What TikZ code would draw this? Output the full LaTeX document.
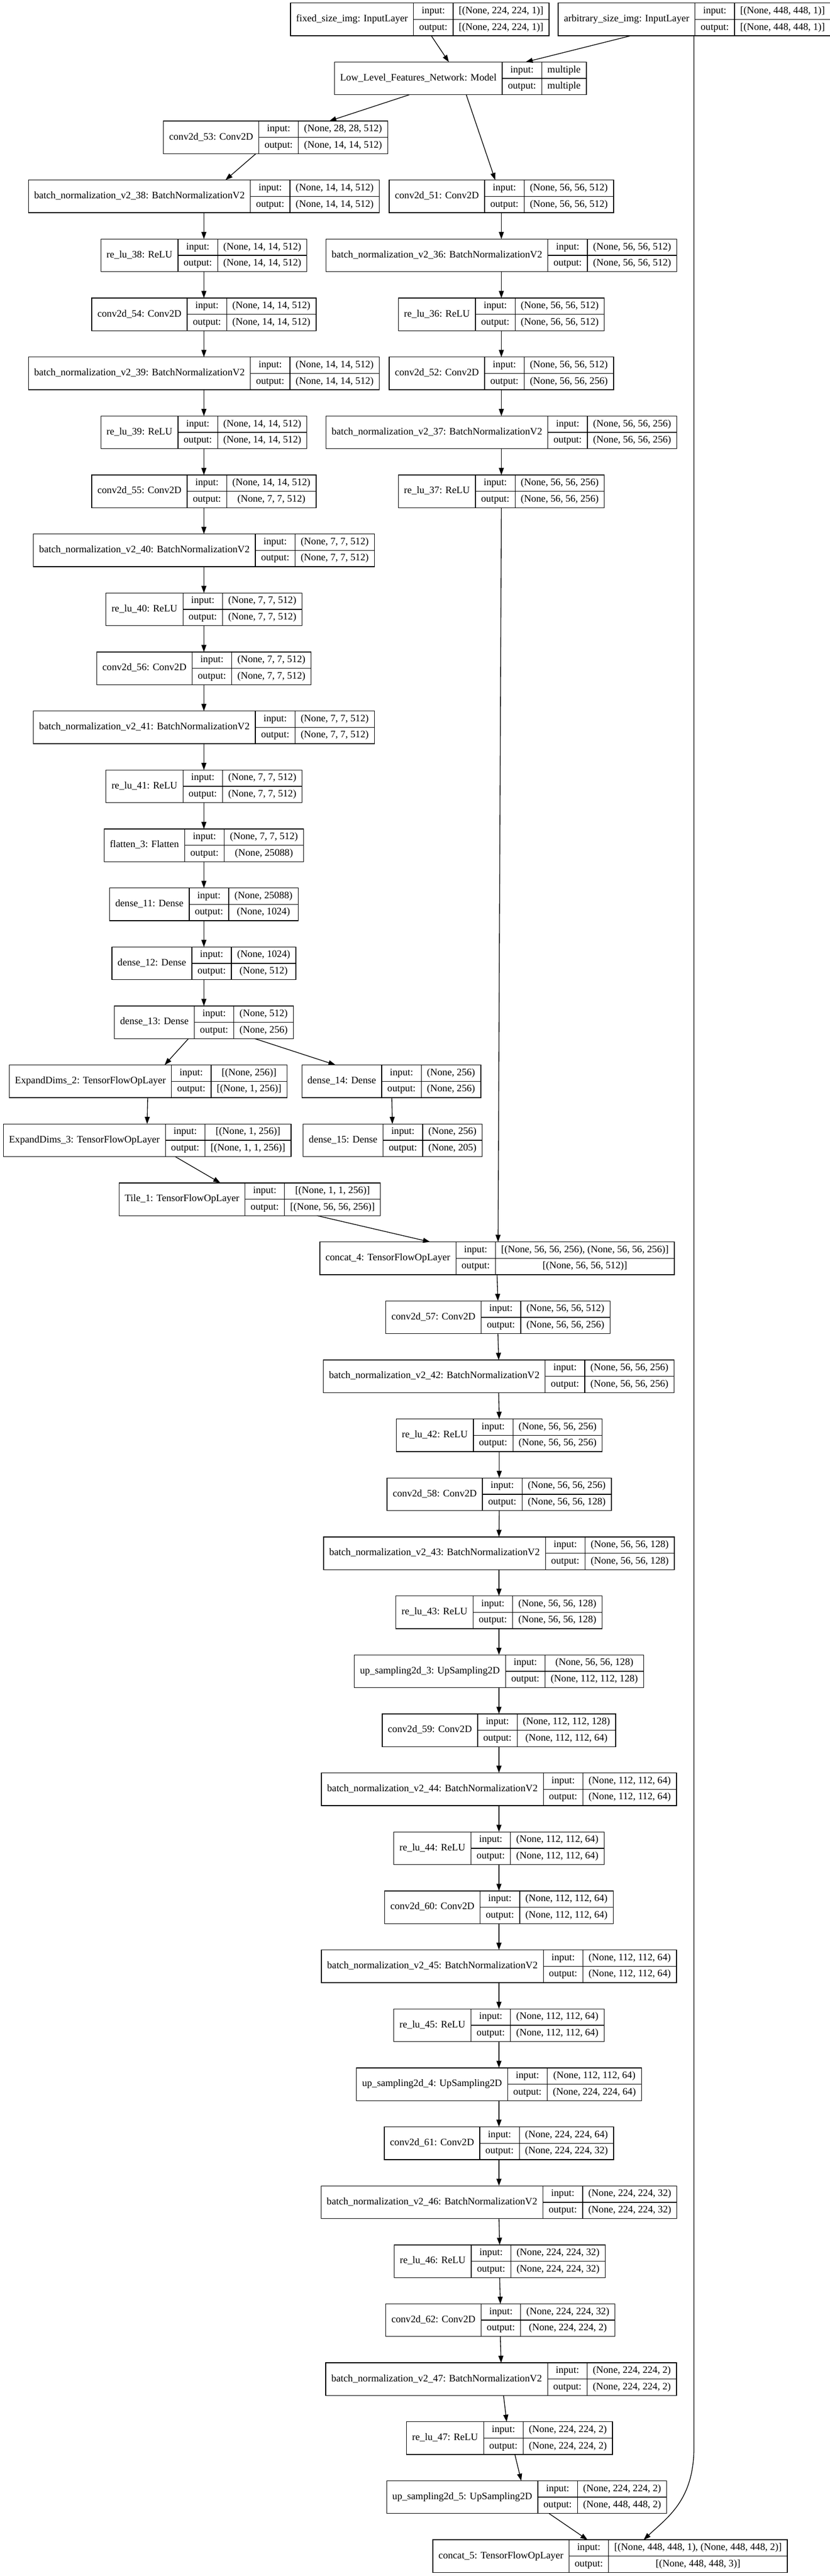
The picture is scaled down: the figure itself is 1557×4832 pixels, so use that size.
\documentclass[tikz,border=0pt]{standalone}
\usepackage{fontspec}
\setmainfont{Liberation Serif}
\usetikzlibrary{arrows.meta,fit,calc}
\newlength\LWl \newlength\LWv \newlength\LWb \newlength\LWio \newlength\LWh
\newcommand\lf{\fontsize{14bp}{16bp}\selectfont}
\tikzset{
  cell/.style={draw, line width=1bp, inner sep=0pt, outer sep=0pt, font=\lf,
    text height=10bp, text depth=3.5bp, anchor=north west, align=center},
  edge/.style={draw, line width=1bp, -{Triangle[length=10bp,width=7bp]}},
}
\newcommand\layer[6]{%
  \pgfinterruptpicture
    \settowidth\LWl{\lf #2}\global\LWl=\LWl
    \settowidth\LWv{\lf #3}\global\LWv=\LWv
    \settowidth\LWb{\lf #4}\global\LWb=\LWb
    \settowidth\LWio{\lf output:}\global\LWio=\LWio
  \endpgfinterruptpicture
  \addtolength\LWl{16bp}%
  \ifdim\LWb>\LWv \LWv=\LWb\fi \addtolength\LWv{16bp}%
  \addtolength\LWio{16bp}%
  \LWh=\LWl \advance\LWh by\LWio \advance\LWh by\LWv \LWh=0.5\LWh
  \path (#5,{5.7+110.66*#6}) ++(-\LWh,0pt) coordinate (#1-nw);
  \node[cell, minimum width=\LWl, minimum height=46bp] (#1-l) at (#1-nw) {#2};
  \node[cell, minimum width=\LWio, minimum height=23bp] (#1-i) at (#1-l.north east) {input:};
  \node[cell, minimum width=\LWio, minimum height=23bp] (#1-o) at (#1-i.south west) {output:};
  \node[cell, minimum width=\LWv, minimum height=23bp] (#1-vi) at (#1-i.north east) {#3};
  \node[cell, minimum width=\LWv, minimum height=23bp] (#1-vo) at (#1-vi.south west) {#4};
  \node[fit=(#1-l)(#1-vo), inner sep=0pt, outer sep=0pt] (#1) {};
}
\begin{document}
\begin{tikzpicture}[x=0.75bp, y=-0.75bp]
\useasboundingbox (0,0) rectangle (1557,4832);
\fill[white] (0,0) rectangle (1557,4832);
% top
\layer{fixed}{fixed\_size\_img: InputLayer}{[(None, 224, 224, 1)]}{[(None, 224, 224, 1)]}{787.5}{0}
\layer{arb}{arbitrary\_size\_img: InputLayer}{[(None, 448, 448, 1)]}{[(None, 448, 448, 1)]}{1302.5}{0}
\layer{low}{Low\_Level\_Features\_Network: Model}{multiple}{multiple}{863.6}{1}
\layer{c53}{conv2d\_53: Conv2D}{(None, 28, 28, 512)}{(None, 14, 14, 512)}{517}{2}
% left column
\layer{bn38}{batch\_normalization\_v2\_38: BatchNormalizationV2}{(None, 14, 14, 512)}{(None, 14, 14, 512)}{382.5}{3}
\layer{r38}{re\_lu\_38: ReLU}{(None, 14, 14, 512)}{(None, 14, 14, 512)}{382.5}{4}
\layer{c54}{conv2d\_54: Conv2D}{(None, 14, 14, 512)}{(None, 14, 14, 512)}{382.5}{5}
\layer{bn39}{batch\_normalization\_v2\_39: BatchNormalizationV2}{(None, 14, 14, 512)}{(None, 14, 14, 512)}{382.5}{6}
\layer{r39}{re\_lu\_39: ReLU}{(None, 14, 14, 512)}{(None, 14, 14, 512)}{382.5}{7}
\layer{c55}{conv2d\_55: Conv2D}{(None, 14, 14, 512)}{(None, 7, 7, 512)}{382.5}{8}
\layer{bn40}{batch\_normalization\_v2\_40: BatchNormalizationV2}{(None, 7, 7, 512)}{(None, 7, 7, 512)}{382.5}{9}
\layer{r40}{re\_lu\_40: ReLU}{(None, 7, 7, 512)}{(None, 7, 7, 512)}{382.5}{10}
\layer{c56}{conv2d\_56: Conv2D}{(None, 7, 7, 512)}{(None, 7, 7, 512)}{382.5}{11}
\layer{bn41}{batch\_normalization\_v2\_41: BatchNormalizationV2}{(None, 7, 7, 512)}{(None, 7, 7, 512)}{382.5}{12}
\layer{r41}{re\_lu\_41: ReLU}{(None, 7, 7, 512)}{(None, 7, 7, 512)}{382.5}{13}
\layer{fl3}{flatten\_3: Flatten}{(None, 7, 7, 512)}{(None, 25088)}{382.5}{14}
\layer{d11}{dense\_11: Dense}{(None, 25088)}{(None, 1024)}{382.5}{15}
\layer{d12}{dense\_12: Dense}{(None, 1024)}{(None, 512)}{382.5}{16}
\layer{d13}{dense\_13: Dense}{(None, 512)}{(None, 256)}{382.5}{17}
\layer{ed2}{ExpandDims\_2: TensorFlowOpLayer}{[(None, 256)]}{[(None, 1, 256)]}{278}{18}
\layer{d14}{dense\_14: Dense}{(None, 256)}{(None, 256)}{734}{18}
\layer{ed3}{ExpandDims\_3: TensorFlowOpLayer}{[(None, 1, 256)]}{[(None, 1, 1, 256)]}{276}{19}
\layer{d15}{dense\_15: Dense}{(None, 256)}{(None, 205)}{736.6}{19}
\layer{tile1}{Tile\_1: TensorFlowOpLayer}{[(None, 1, 1, 256)]}{[(None, 56, 56, 256)]}{468.6}{20}
% right column
\layer{c51}{conv2d\_51: Conv2D}{(None, 56, 56, 512)}{(None, 56, 56, 512)}{940.5}{3}
\layer{bn36}{batch\_normalization\_v2\_36: BatchNormalizationV2}{(None, 56, 56, 512)}{(None, 56, 56, 512)}{940.5}{4}
\layer{r36}{re\_lu\_36: ReLU}{(None, 56, 56, 512)}{(None, 56, 56, 512)}{940.5}{5}
\layer{c52}{conv2d\_52: Conv2D}{(None, 56, 56, 512)}{(None, 56, 56, 256)}{940.5}{6}
\layer{bn37}{batch\_normalization\_v2\_37: BatchNormalizationV2}{(None, 56, 56, 256)}{(None, 56, 56, 256)}{940.5}{7}
\layer{r37}{re\_lu\_37: ReLU}{(None, 56, 56, 256)}{(None, 56, 56, 256)}{940.5}{8}
% lower column
\layer{cat4}{concat\_4: TensorFlowOpLayer}{[(None, 56, 56, 256), (None, 56, 56, 256)]}{[(None, 56, 56, 512)]}{932.4}{21}
\layer{c57}{conv2d\_57: Conv2D}{(None, 56, 56, 512)}{(None, 56, 56, 256)}{934}{22}
\layer{bn42}{batch\_normalization\_v2\_42: BatchNormalizationV2}{(None, 56, 56, 256)}{(None, 56, 56, 256)}{935.5}{23}
\layer{r42}{re\_lu\_42: ReLU}{(None, 56, 56, 256)}{(None, 56, 56, 256)}{936.5}{24}
\layer{c58}{conv2d\_58: Conv2D}{(None, 56, 56, 256)}{(None, 56, 56, 128)}{936.5}{25}
\layer{bn43}{batch\_normalization\_v2\_43: BatchNormalizationV2}{(None, 56, 56, 128)}{(None, 56, 56, 128)}{936}{26}
\layer{r43}{re\_lu\_43: ReLU}{(None, 56, 56, 128)}{(None, 56, 56, 128)}{936}{27}
\layer{up3}{up\_sampling2d\_3: UpSampling2D}{(None, 56, 56, 128)}{(None, 112, 112, 128)}{936}{28}
\layer{c59}{conv2d\_59: Conv2D}{(None, 112, 112, 128)}{(None, 112, 112, 64)}{936}{29}
\layer{bn44}{batch\_normalization\_v2\_44: BatchNormalizationV2}{(None, 112, 112, 64)}{(None, 112, 112, 64)}{936}{30}
\layer{r44}{re\_lu\_44: ReLU}{(None, 112, 112, 64)}{(None, 112, 112, 64)}{936}{31}
\layer{c60}{conv2d\_60: Conv2D}{(None, 112, 112, 64)}{(None, 112, 112, 64)}{936}{32}
\layer{bn45}{batch\_normalization\_v2\_45: BatchNormalizationV2}{(None, 112, 112, 64)}{(None, 112, 112, 64)}{936}{33}
\layer{r45}{re\_lu\_45: ReLU}{(None, 112, 112, 64)}{(None, 112, 112, 64)}{936}{34}
\layer{up4}{up\_sampling2d\_4: UpSampling2D}{(None, 112, 112, 64)}{(None, 224, 224, 64)}{936}{35}
\layer{c61}{conv2d\_61: Conv2D}{(None, 224, 224, 64)}{(None, 224, 224, 32)}{936}{36}
\layer{bn46}{batch\_normalization\_v2\_46: BatchNormalizationV2}{(None, 224, 224, 32)}{(None, 224, 224, 32)}{936}{37}
\layer{r46}{re\_lu\_46: ReLU}{(None, 224, 224, 32)}{(None, 224, 224, 32)}{937.3}{38}
\layer{c62}{conv2d\_62: Conv2D}{(None, 224, 224, 32)}{(None, 224, 224, 2)}{938.6}{39}
\layer{bn47}{batch\_normalization\_v2\_47: BatchNormalizationV2}{(None, 224, 224, 2)}{(None, 224, 224, 2)}{940}{40}
\layer{r47}{re\_lu\_47: ReLU}{(None, 224, 224, 2)}{(None, 224, 224, 2)}{955.8}{41}
\layer{up5}{up\_sampling2d\_5: UpSampling2D}{(None, 224, 224, 2)}{(None, 448, 448, 2)}{988}{42}
\layer{cat5}{concat\_5: TensorFlowOpLayer}{[(None, 448, 448, 1), (None, 448, 448, 2)]}{[(None, 448, 448, 3)]}{1144.6}{43}
% edges
\draw[edge] ($(fixed.south)+(21.5,0)$) -- ($(low.north)+(-21.6,0)$);
\draw[edge] ($(arb.south)+(-119,0)$) -- ($(low.north)+(122.4,0)$);
\draw[edge] ($(low.south)+(-95.6,0)$) -- ($(c53.north)+(100.6,0)$);
\draw[edge] ($(low.south)+(11,0)$) -- ($(c51.north)+(-11.5,0)$);
\draw[edge] ($(c53.south)+(-37,0)$) -- ($(bn38.north)+(40.5,0)$);
\foreach \a/\b in {bn38/r38,r38/c54,c54/bn39,bn39/r39,r39/c55,c55/bn40,bn40/r40,r40/c56,
  c56/bn41,bn41/r41,r41/fl3,fl3/d11,d11/d12,d12/d13,
  c51/bn36,bn36/r36,r36/c52,c52/bn37,bn37/r37,
  cat4/c57,c57/bn42,bn42/r42,r42/c58,c58/bn43,bn43/r43,r43/up3,up3/c59,c59/bn44,
  bn44/r44,r44/c60,c60/bn45,bn45/r45,r45/up4,up4/c61,c61/bn46,bn46/r46,r46/c62,c62/bn47}
  \draw[edge] (\a.south) -- (\b.north);
\draw[edge] ($(d13.south)+(-29,0)$) -- ($(ed2.north)+(30.8,0)$);
\draw[edge] ($(d13.south)+(95.5,0)$) -- ($(d14.north)+(-104.5,0)$);
\draw[edge] ($(ed2.south)+(-1,0)$) -- (ed3.north);
\draw[edge] ($(d14.south)+(1,0)$) -- ($(d15.north)+(-0.6,0)$);
\draw[edge] ($(ed3.south)+(52.7,0)$) -- ($(tile1.north)+(-55.2,0)$);
\draw[edge] ($(tile1.south)+(126,0)$) -- ($(cat4.north)+(-125.6,0)$);
\draw[edge] (r37.south) -- ($(cat4.north)+(1.9,0)$);
\draw[edge] ($(bn47.south)+(4.6,0)$) -- ($(r47.north)+(-5.4,0)$);
\draw[edge] ($(r47.south)+(10,0)$) -- ($(up5.north)+(-10.2,0)$);
\draw[edge] ($(up5.south)+(42,0)$) -- ($(cat5.north)+(-42.4,0)$);
\coordinate (bendA) at (1301.8,4590);
\draw[edge] ($(arb.south)+(-0.7,0)$) -- (bendA) .. controls (1301.8,4690) and (1252,4722) .. ($(cat5.north)+(62.8,0)$);
\end{tikzpicture}
\end{document}
